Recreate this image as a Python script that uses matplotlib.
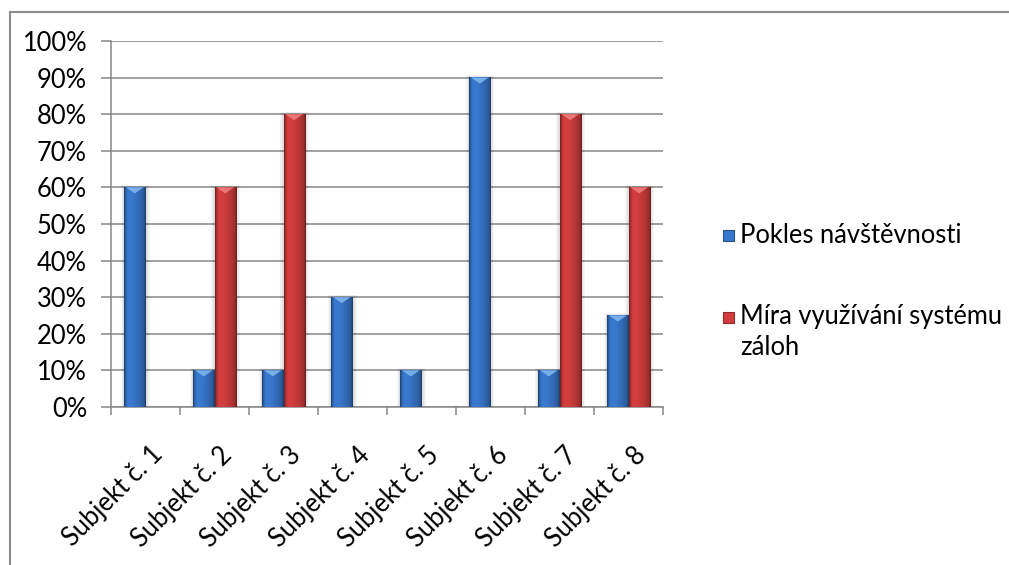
import numpy as np
import matplotlib
matplotlib.use("Agg")
import matplotlib.pyplot as plt
from matplotlib.patches import Polygon, Rectangle
from matplotlib.lines import Line2D
from matplotlib.transforms import ScaledTranslation
from matplotlib.ticker import FuncFormatter

# ---- data ----
categories = ["Subjekt č. 1", "Subjekt č. 2", "Subjekt č. 3", "Subjekt č. 4",
              "Subjekt č. 5", "Subjekt č. 6", "Subjekt č. 7", "Subjekt č. 8"]
pokles = [60, 10, 10, 30, 10, 90, 10, 25]          # Pokles návštěvnosti (%)
mira = [0, 60, 80, 0, 0, 0, 80, 60]                # Míra využívání systému záloh (%)
series_labels = ["Pokles návštěvnosti", "Míra využívání systému\nzáloh"]
y_ticks = [0, 10, 20, 30, 40, 50, 60, 70, 80, 90, 100]

# ---- style ----
W, H, DPI = 1009, 565, 100
FONT = "Lato"
FS_TICK = 18.4
FS_LEG = 18.4
GRID = "#868686"
BLUE = np.array([0.22, 0.47, 0.80])
RED = np.array([0.82, 0.24, 0.24])
BLUE_TOP = "#7fb6ee"
RED_TOP = "#ee7d7d"

plt.rcParams["font.family"] = [FONT, "DejaVu Sans"]

fig = plt.figure(figsize=(W / DPI, H / DPI), dpi=DPI)
ax_left, ax_right = 111 / W, 663 / W
ax_bottom, ax_top = 1 - 407 / H, 1 - 41 / H
ax = fig.add_axes([ax_left, ax_bottom, ax_right - ax_left, ax_top - ax_bottom])

x = np.arange(len(categories))
bw = 0.31

ax.set_xlim(-0.5, len(categories) - 0.5)
ax.set_ylim(0, 100)

px_per_unit_y = (ax_top - ax_bottom) * H / 100.0
px_per_unit_x = (ax_right - ax_left) * W / len(categories)


def shade_profile(base, n=80):
    t = np.linspace(0, 1, n)
    knots_t = [0.0, 0.07, 0.18, 0.40, 0.70, 0.90, 1.0]
    knots_f = [0.50, 0.82, 1.02, 1.0, 0.88, 0.76, 0.50]
    f = np.interp(t, knots_t, knots_f)
    rgb = np.clip(base[None, :] * f[:, None], 0, 1)
    return rgb[None, :, :]


def gradient_bars(positions, values, base, top_color):
    bars = ax.bar(positions, values, width=bw, color="none", edgecolor="none", zorder=3)
    img = shade_profile(base)
    dy = 1.0 / px_per_unit_y
    dx = 1.0 / px_per_unit_x
    for r in bars:
        x0, w, h = r.get_x(), r.get_width(), r.get_height()
        if h <= 0:
            continue
        # soft shadow halo
        for k in range(1, 5):
            ax.add_patch(Rectangle((x0 - k * dx * 0.8, 0), w + k * dx * 1.8, h + k * dy * 0.6,
                                   facecolor="black", edgecolor="none", alpha=0.035, zorder=2.5))
        ax.imshow(img, extent=(x0, x0 + w, 0, h), aspect="auto",
                  interpolation="bilinear", zorder=3)
        # bevelled top
        ax.add_patch(Polygon([(x0 + 2 * dx, h), (x0 + w - 2 * dx, h), (x0 + w / 2, h - 6 * dy)],
                             closed=True, facecolor=top_color, edgecolor="none", alpha=0.9, zorder=4))
    return bars


gradient_bars(x - bw / 2, pokles, BLUE, BLUE_TOP)
gradient_bars(x + bw / 2, mira, RED, RED_TOP)

ax.set_xlim(-0.5, len(categories) - 0.5)
ax.set_ylim(0, 100)

# ---- axes / grid ----
ax.set_yticks(y_ticks)
ax.yaxis.set_major_formatter(FuncFormatter(lambda v, p: f"{v:.0f}%"))
ax.grid(axis="y", color=GRID, linewidth=1.1)
ax.set_axisbelow(True)
for side in ("top", "right"):
    ax.spines[side].set_visible(False)
for side in ("left", "bottom"):
    ax.spines[side].set_color(GRID)
    ax.spines[side].set_linewidth(1.1)
ax.tick_params(axis="y", direction="out", length=7.2, width=1.1, color=GRID,
               pad=10, labelsize=FS_TICK)

ax.set_xticks(np.arange(-0.5, len(categories), 1.0))
ax.set_xticklabels([])
ax.tick_params(axis="x", which="major", direction="out", length=5.5, width=1.1, color=GRID)
ax.set_xticks(x, labels=categories, minor=True)
ax.tick_params(axis="x", which="minor", length=0, pad=0, labelsize=FS_TICK)
offset = ScaledTranslation(5 / DPI, -35 / DPI, fig.dpi_scale_trans)
for lbl in ax.get_xticklabels(minor=True):
    lbl.set_rotation(45)
    lbl.set_rotation_mode("anchor")
    lbl.set_ha("right")
    lbl.set_va("top")
    lbl.set_transform(lbl.get_transform() + offset)

# ---- legend ----
def fx(px):
    return px / W


def fy(py):
    return 1 - py / H


for base, label, cy in ((BLUE, series_labels[0], 236), (RED, series_labels[1], 317)):
    fig.add_artist(Rectangle((fx(723), fy(cy + 5.5)), 11 / W, 11 / H, transform=fig.transFigure,
                             facecolor=base, edgecolor=base * 0.7, linewidth=0.8))
    fig.text(fx(740), fy(cy - 13), label, ha="left", va="top", fontsize=FS_LEG,
             linespacing=1.3, color="black")

# ---- outer frame ----
fig.add_artist(Line2D([fx(10), fx(1009)], [fy(12), fy(12)], transform=fig.transFigure,
                      color="#8c8c8c", linewidth=1.5))
fig.add_artist(Line2D([fx(10), fx(10)], [fy(12), fy(565)], transform=fig.transFigure,
                      color="#8c8c8c", linewidth=1.5))

fig.savefig("out.png", dpi=DPI)
